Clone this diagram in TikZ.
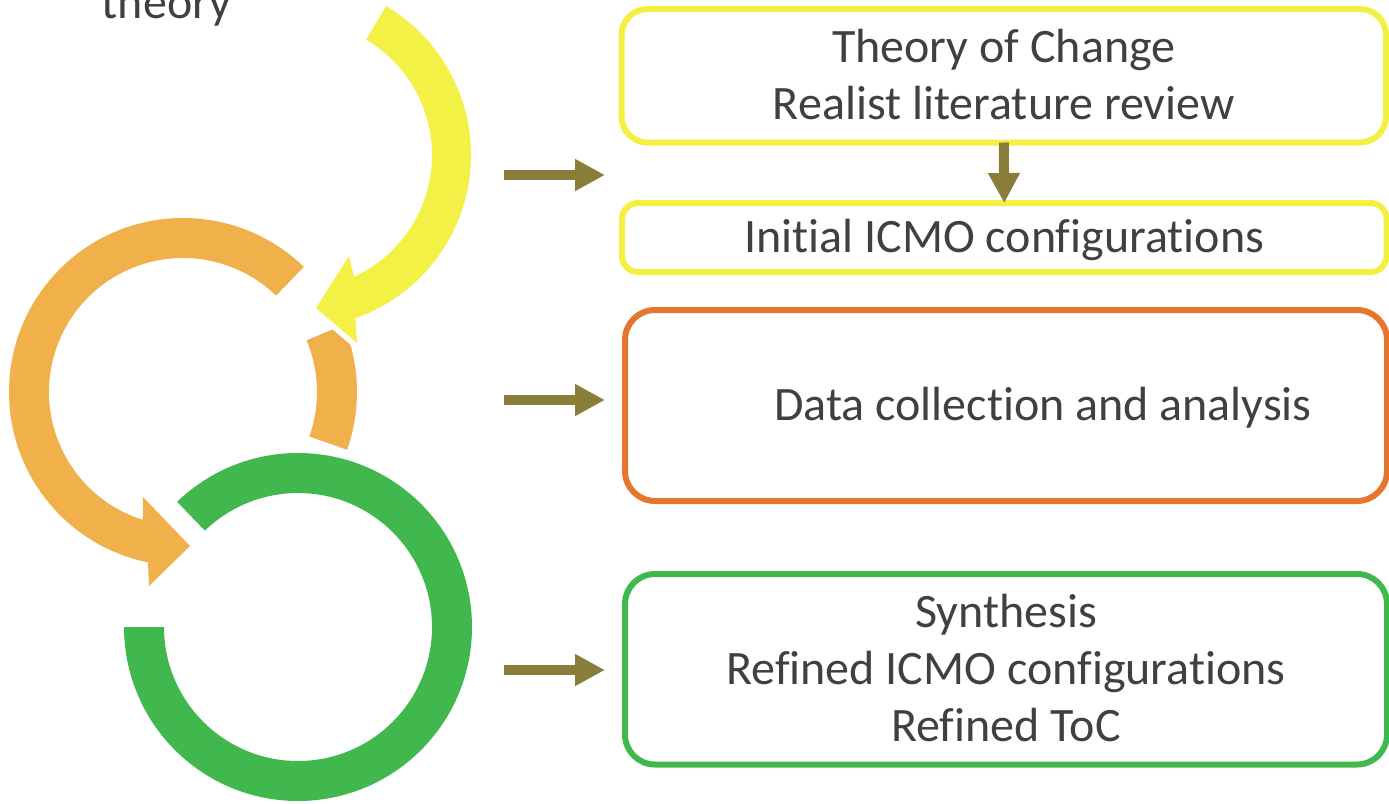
\documentclass[tikz,border=0pt]{standalone}
\usepackage{fontspec}
\setmainfont{Carlito}[Ligatures=NoCommon]
\usetikzlibrary{arrows.meta,calc}

\definecolor{ringyellow}{RGB}{243,241,69}
\definecolor{ringorange}{RGB}{241,177,74}
\definecolor{ringgreen}{RGB}{64,184,78}
\definecolor{boxyellow}{RGB}{243,240,66}
\definecolor{boxorange}{RGB}{230,118,46}
\definecolor{boxgreen}{RGB}{64,185,76}
\definecolor{arrowolive}{RGB}{137,126,57}
\definecolor{textgray}{RGB}{64,64,64}

% one line of box text: 57pt high, 13.5pt of it below the baseline
\newcommand\boxline{\rule[-13.5pt]{0pt}{57pt}}

\begin{document}
\begin{tikzpicture}
[x=1pt,y=1pt,
  stagebox/.style={draw,line width=6pt,rounded corners=26pt,outer sep=0pt,
    inner sep=0pt,align=center,text=textgray,
    font=\fontsize{48}{57}\selectfont},
  flowarrow/.style={draw=arrowolive,line width=10pt,
    -{Triangle[length=30pt,width=30pt]}}]
\clip (0,0) rectangle (1389,-803);
%% ring centres
\coordinate (yc) at (298,-155);
\coordinate (oc) at (183,-392);
\coordinate (gc) at (298,-627);
%% green ring
\fill[ringgreen] ($(gc)+(134:174)$) arc[start angle=134,end angle=-180,radius=174]
  -- ($(gc)+(180:134)$) arc[start angle=-180,end angle=134,radius=134] -- cycle;
%% orange ring with its head
\fill[ringorange] ($(oc)+(46:174)$) arc[start angle=46,end angle=258.4,radius=174]
  -- (149,-586) -- (190,-546) -- (143,-497)
  -- ($(oc)+(252.5:134)$) arc[start angle=252.5,end angle=46,radius=134] -- cycle;
\fill[ringorange] ($(oc)+(-19.4:174)$) arc[start angle=-19.4,end angle=22.7,radius=174]
  -- ($(oc)+(22.7:134)$) arc[start angle=22.7,end angle=-19.4,radius=134] -- cycle;
%% yellow ring, cut out of the orange one
\path[draw=white,line width=11pt,fill=ringyellow]
  ($(yc)+(59.4:173)$) arc[start angle=59.4,end angle=-70.6,radius=173]
  -- (357,-343) -- (316,-308) -- (349,-256)
  -- ($(yc)+(-65.3:134)$) arc[start angle=-65.3,end angle=59.4,radius=134] -- cycle;
\fill[ringyellow]
  ($(yc)+(59.4:173)$) arc[start angle=59.4,end angle=-70.6,radius=173]
  -- (357,-343) -- (316,-308) -- (349,-256)
  -- ($(yc)+(-65.3:134)$) arc[start angle=-65.3,end angle=59.4,radius=134] -- cycle;
\node[anchor=base,text=textgray,font=\fontsize{48}{57}\selectfont] (theory) at (166.5,-19) {theory};
%% stages
\node[stagebox,draw=boxyellow,minimum width=764.5pt,minimum height=133.5pt]
  (toc) at (1003.75,-75.75) {\boxline Theory of Change\\\boxline Realist literature review};
\node[stagebox,draw=boxyellow,rounded corners=16pt,minimum width=764.5pt,minimum height=69pt]
  (icmo) at (1004.25,-237.5) {\boxline Initial ICMO configurations};
\node[stagebox,draw=boxorange,rounded corners=30pt,minimum width=762pt,minimum height=191pt]
  (data) at (1006,-405.5) {\boxline\hspace{74pt}Data collection and analysis};
\node[stagebox,draw=boxgreen,rounded corners=30pt,minimum width=762pt,minimum height=190.5pt]
  (synth) at (1006,-669.25) {\boxline Synthesis\\\boxline Refined ICMO configurations\\\boxline Refined ToC};
%% arrows
\foreach \n/\y in {1/175, 2/400, 3/670}
{
  \coordinate (s\n) at (504,-\y);
  \coordinate (t\n) at (605,-\y);
  \draw[flowarrow] (s\n) -- (t\n);
}
\draw[flowarrow] (toc.south) -- (icmo.north);
\end{tikzpicture}
\end{document}
